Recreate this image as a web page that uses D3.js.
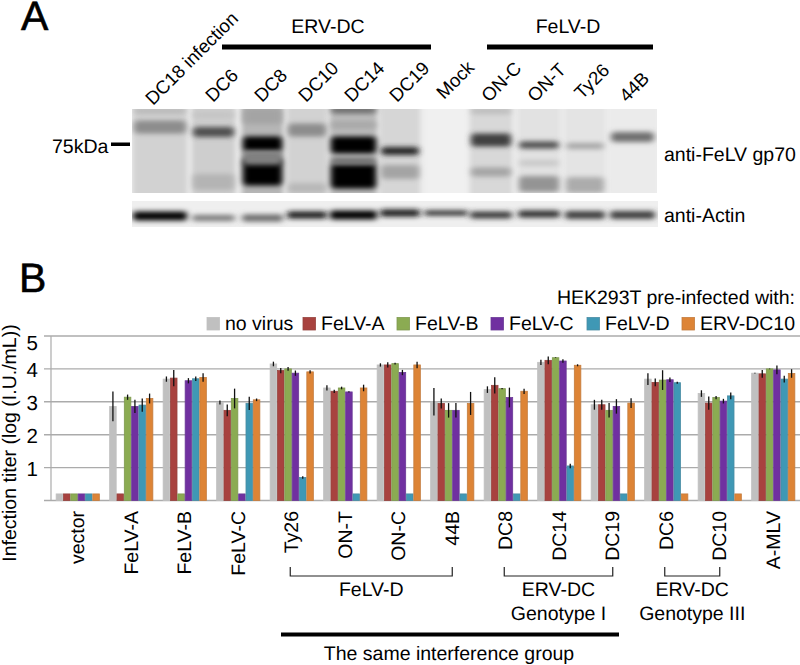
<!DOCTYPE html>
<html><head><meta charset="utf-8">
<style>html,body{margin:0;padding:0;background:#fff}svg{display:block}text{font-family:"Liberation Sans",Arial,sans-serif;fill:#000;text-rendering:geometricPrecision}</style>
<script src="https://cdn.jsdelivr.net/npm/d3@7"></script>
</head><body>
<script>
const categories=["vector","FeLV-A","FeLV-B","FeLV-C","Ty26","ON-T","ON-C","44B","DC8","DC14","DC19","DC6","DC10","A-MLV"];
const seriesNames=["no virus","FeLV-A","FeLV-B","FeLV-C","FeLV-D","ERV-DC10"];
const seriesColors=["#c0c0c0","#a8423f","#8bab52","#7030a0","#3f98b5","#dd8436"];
const seriesStrokes=["#c0c0c0","#96443f","#7f9a50","#6a3a96","#4a8ca3","#c47c3e"];
const noVirus=[0.2,2.86,3.69,2.98,4.15,3.42,4.12,3.0,3.37,4.2,2.91,3.69,3.25,3.87];
const felvA=[0.2,0.2,3.72,2.74,3.95,3.32,4.12,2.95,3.5,4.26,2.91,3.59,2.96,3.85];
const felvB=[0.2,3.14,0.2,3.1,4.0,3.42,4.16,2.74,3.4,4.34,2.74,3.66,3.13,4.0];
const felvC=[0.2,2.86,3.64,0.2,3.87,3.3,3.89,2.74,3.13,4.24,2.86,3.67,3.02,3.97];
const felvD=[0.2,2.9,3.7,2.95,0.7,0.2,0.2,0.2,0.2,1.05,0.2,3.58,3.18,3.69];
const ervDC10=[0.2,3.1,3.74,3.06,3.91,3.42,4.12,2.95,3.32,4.11,2.96,0.2,0.2,3.86];
const errNoVirus=[0,0.45,0.08,0.06,0.07,0.08,0.05,0.42,0.1,0.08,0.15,0.18,0.1,0.01];
const errFelvA=[0,0,0.25,0.18,0.08,0.05,0.08,0.15,0.25,0.12,0.15,0.12,0.2,0.12];
const errFelvB=[0,0.08,0,0.3,0.06,0.04,0.03,0.22,0.02,0.01,0.22,0.3,0.05,0.01];
const errFelvC=[0,0.2,0.08,0,0.08,0.02,0.08,0.22,0.3,0.05,0.22,0.07,0.07,0.13];
const errFelvD=[0,0.2,0.07,0.2,0.04,0,0,0,0,0.07,0,0.03,0.1,0.1];
const errErvDC10=[0,0.15,0.13,0.04,0.05,0.1,0.1,0.35,0.08,0.03,0.15,0,0,0.13];
const yTicks=[1,2,3,4,5];
const groups=[
 {from:"Ty26",to:"44B",lines:["FeLV-D"]},
 {from:"DC8",to:"DC19",lines:["ERV-DC","Genotype I"]},
 {from:"DC6",to:"DC10",lines:["ERV-DC","Genotype III"]}];
const blotLabels=[["DC18 infection",153,106],["DC6",213,103],["DC8",262,103],["DC10",306,103],["DC14",352,103],["DC19",397,103],["Mock",444,100],["ON-C",489,103],["ON-T",535,103],["Ty26",582,100],["44B",627,103]];
// Western blot decoration: lane [x0,x1,base grey], bands [lane,y,height,grey]
const lanes=[[133,187,"#d2d2d2"],[192,235,"#cecece"],[242,283,"#b6b6b6"],[287,327,"#d2d2d2"],[330,377,"#bcbcbc"],[380,420,"#d6d6d6"],[424,468,"#f0f0f0"],[470,512,"#d8d8d8"],[518,560,"#e2e2e2"],[565,605,"#e4e4e4"],[610,655,"#ebebeb"]];
const bandsTop=[[0,127,13,"#8c8c8c"],[0,111,6,"#b8b8b8"],[1,132,10,"#505050"],[1,115,6,"#c4c4c4"],[1,182,16,"#b4b4b4"],
 [2,116,16,"#a4a4a4"],[2,144,15,"#000000"],[2,172,27,"#000000"],[2,158,14,"#808080"],
 [3,130,13,"#8c8c8c"],[3,188,10,"#b8b8b8"],[4,110,7,"#6c6c6c"],[4,125,8,"#a8a8a8"],[4,145,17,"#000000"],[4,176,25,"#000000"],[4,161,7,"#707070"],
 [5,151,8,"#282828"],[5,172,14,"#a4a4a4"],[7,140,13,"#404040"],[7,172,9,"#a4a4a4"],[7,111,6,"#bcbcbc"],
 [8,145,7,"#4c4c4c"],[8,184,16,"#949494"],[8,163,6,"#c8c8c8"],[9,146,6,"#a4a4a4"],[9,185,16,"#acacac"],[10,137,10,"#707070"]];
const bandsBottom=[[0,216,9,"#000000"],[1,218,6,"#787878"],[2,218,7,"#686868"],[3,215,7,"#181818"],[4,215,9,"#000000"],[5,213,7,"#181818"],[6,213,5,"#282828"],[7,215,7,"#383838"],[8,214,7,"#2c2c2c"],[9,215,8,"#3c3c3c"],[10,215,8,"#3c3c3c"]];

const values=[noVirus,felvA,felvB,felvC,felvD,ervDC10];
const errors=[errNoVirus,errFelvA,errFelvB,errFelvC,errFelvD,errErvDC10];
const W=800,H=665;
const svg=d3.select("body").append("svg").attr("width",W).attr("height",H);
const fs=19.5;
const defs=svg.append("defs");
defs.append("filter").attr("id","b1").attr("x","-30%").attr("y","-150%").attr("width","160%").attr("height","400%").append("feGaussianBlur").attr("stdDeviation","3 2.6");
defs.append("filter").attr("id","b2").attr("x","-30%").attr("y","-30%").attr("width","160%").attr("height","160%").append("feGaussianBlur").attr("stdDeviation","2.5");
defs.append("clipPath").attr("id","p1").append("rect").attr("x",132).attr("y",109).attr("width",525).attr("height",84);
defs.append("clipPath").attr("id","p2").append("rect").attr("x",132).attr("y",201).attr("width",526).attr("height",26);

function txt(x,y,s,o={}){return svg.append("text").attr("x",x).attr("y",y).attr("font-size",o.size||fs).attr("text-anchor",o.anchor||"start").text(s);}
txt(21,29.5,"A",{size:41}).attr("stroke","#000").attr("stroke-width",.6);
txt(19,292,"B",{size:41}).attr("stroke","#000").attr("stroke-width",.6);

// panel A
blotLabels.forEach(([s,x,y])=>svg.append("text").attr("transform",`translate(${x},${y}) rotate(-45)`).attr("font-size",18.6).text(s));
txt(328,33,"ERV-DC",{anchor:"middle"});txt(568,33,"FeLV-D",{anchor:"middle"});
svg.append("rect").attr("x",222).attr("y",44.5).attr("width",209).attr("height",5).attr("fill","#000");
svg.append("rect").attr("x",487).attr("y",44.5).attr("width",166).attr("height",5).attr("fill","#000");
txt(52,153,"75kDa");
svg.append("rect").attr("x",111).attr("y",142.5).attr("width",19).attr("height",3.5).attr("fill","#000");
txt(664,161,"anti-FeLV gp70");txt(664,222,"anti-Actin");

const gelTop=svg.append("g").attr("clip-path","url(#p1)");
gelTop.append("rect").attr("x",132).attr("y",109).attr("width",525).attr("height",84).attr("fill","#ececec");
const topLanes=gelTop.append("g").attr("filter","url(#b2)");
topLanes.selectAll("rect").data(lanes).join("rect").attr("x",d=>d[0]).attr("width",d=>d[1]-d[0]).attr("y",100).attr("height",100).attr("fill",d=>d[2]);
gelTop.append("g").selectAll("rect").data(bandsTop).join("rect").attr("filter","url(#b1)")
 .attr("x",d=>lanes[d[0]][0]+1).attr("width",d=>lanes[d[0]][1]-lanes[d[0]][0]-2)
 .attr("y",d=>d[1]-d[2]/2).attr("height",d=>d[2]).attr("rx",4).attr("fill",d=>d[3]);
const gelBot=svg.append("g").attr("clip-path","url(#p2)");
gelBot.append("rect").attr("x",132).attr("y",201).attr("width",526).attr("height",26).attr("fill","#efefef");
gelBot.append("g").selectAll("rect").data(bandsBottom).join("rect").attr("filter","url(#b1)")
 .attr("x",d=>lanes[d[0]][0]).attr("width",d=>lanes[d[0]][1]-lanes[d[0]][0])
 .attr("y",d=>d[1]-d[2]/2).attr("height",d=>d[2]).attr("rx",3).attr("fill",d=>d[3]);

// panel B
const x=d3.scaleBand().domain(categories).range([51,800]).paddingInner(0).paddingOuter(0);
const y=d3.scaleLinear().domain([0,5]).range([500.5,336]);
const x1=d3.scaleBand().domain(seriesNames).range([0,44]).padding(0);
const off=(x.bandwidth()-44)/2;

const grid=svg.append("g");
grid.selectAll("line").data([0].concat(yTicks)).join("line").attr("x1",44).attr("x2",800).attr("y1",d=>y(d)).attr("y2",d=>y(d)).attr("stroke","#ababab").attr("stroke-width",1.4);
grid.append("line").attr("x1",51).attr("x2",51).attr("y1",y(5)).attr("y2",y(0)).attr("stroke","#ababab").attr("stroke-width",1.2);
svg.append("g").selectAll("text").data(yTicks).join("text").attr("x",38).attr("y",d=>Math.max(y(d)+8.5,350)).attr("text-anchor","end").attr("font-size",20.5).text(d=>d);
svg.append("text").attr("transform","translate(16,443) rotate(-90)").attr("text-anchor","middle").attr("font-size",fs).text("Infection titer (log (I.U./mL))");

seriesNames.forEach((s,si)=>{
 const g=svg.append("g");
 const bw=x1.bandwidth()-.8;
 g.selectAll("rect").data(categories).join("rect")
  .attr("x",c=>x(c)+off+x1(s)+.4).attr("width",bw)
  .attr("y",(c,i)=>y(values[si][i])).attr("height",(c,i)=>y(0)-y(values[si][i]))
  .attr("fill",seriesColors[si]).attr("stroke",seriesStrokes[si]).attr("stroke-width",.8);
});
seriesNames.forEach((s,si)=>{
 svg.append("g").selectAll("line").data(categories.filter((c,i)=>errors[si][i]>0)).join("line")
  .attr("x1",c=>x(c)+off+x1(s)+x1.bandwidth()/2).attr("x2",c=>x(c)+off+x1(s)+x1.bandwidth()/2)
  .attr("y1",c=>{const i=categories.indexOf(c);return y(values[si][i]+errors[si][i]);})
  .attr("y2",c=>{const i=categories.indexOf(c);return y(values[si][i]-errors[si][i]);})
  .attr("stroke","#111").attr("stroke-width",1.3);
});

// x labels
svg.append("g").selectAll("text").data(categories).join("text")
 .attr("transform",c=>`translate(${x(c)+x.bandwidth()/2+6.5},511) rotate(-90)`).attr("text-anchor","end").attr("font-size",fs).text(c=>c);

// legend
const legendX=[207,303,397,491,587,682];
seriesNames.forEach((s,i)=>{
 svg.append("rect").attr("x",legendX[i]).attr("y",317.5).attr("width",12.5).attr("height",12.5).attr("fill",seriesColors[i]).attr("stroke",seriesStrokes[i]).attr("stroke-width",.8);
 txt(legendX[i]+18,330,s);
});
txt(795,304,"HEK293T pre-infected with:",{anchor:"end"});

// group brackets
const cx=c=>x(c)+x.bandwidth()/2;
groups.forEach(g=>{
 const a=cx(g.from)-1.5,b=cx(g.to);
 svg.append("path").attr("d",d3.line()([[a,567],[a,576],[b,576],[b,567]])).attr("fill","none").attr("stroke","#222").attr("stroke-width",1.2);
 g.lines.forEach((l,i)=>txt((a+b)/2,596+i*23.5,l,{anchor:"middle"}));
});
svg.append("rect").attr("x",281).attr("y",632.5).attr("width",338).attr("height",4).attr("fill","#000");
txt(449,660,"The same interference group",{anchor:"middle"});
</script>
</body></html>
